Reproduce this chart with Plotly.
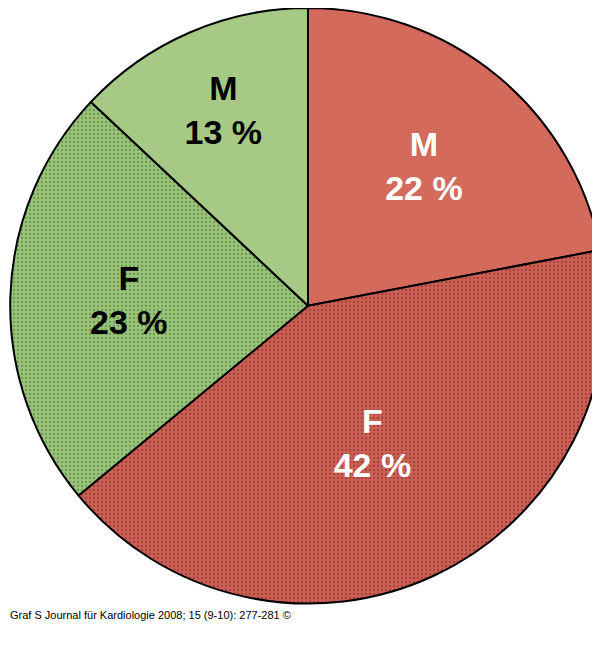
import plotly.graph_objects as go

labels = ["M (rot)", "F (rot)", "F (grün)", "M (grün)"]
values = [22, 42, 23, 13]
texts = ["<b>M<br>22 %</b>", "<b>F<br>42 %</b>", "<b>F<br>23 %</b>", "<b>M<br>13 %</b>"]
colors = ["#D46A5C", "#CD5F55", "#9AC47A", "#A6CA86"]
patterns = ["", ".", ".", ""]
pattern_fg = ["#D46A5C", "#6E2620", "#3E6B2A", "#A6CA86"]
text_colors = ["white", "white", "black", "black"]

fig = go.Figure(go.Pie(
    labels=labels, values=values, text=texts,
    textinfo="text", textposition="inside", insidetextorientation="horizontal",
    sort=False, direction="clockwise", rotation=0,
    marker=dict(colors=colors, line=dict(color="black", width=2),
                pattern=dict(shape=patterns, fgcolor=pattern_fg, fillmode="overlay",
                             size=4, solidity=0.25)),
    insidetextfont=dict(family="Liberation Sans", size=34, color=text_colors),
    domain=dict(x=[0, 1], y=[0.099, 1.0]),
    showlegend=False, hoverinfo="skip",
))

fig.add_annotation(text="Graf S Journal für Kardiologie 2008; 15 (9-10): 277-281 ©",
                   x=0.0, y=1 - 607 / 661, xref="paper", yref="paper",
                   xanchor="left", yanchor="middle", showarrow=False,
                   font=dict(family="Arial", size=11, color="black"))

fig.update_layout(width=600, height=661, margin=dict(l=0, r=0, t=0, b=0),
                  paper_bgcolor="white", plot_bgcolor="white")
fig.write_html("out.html")
